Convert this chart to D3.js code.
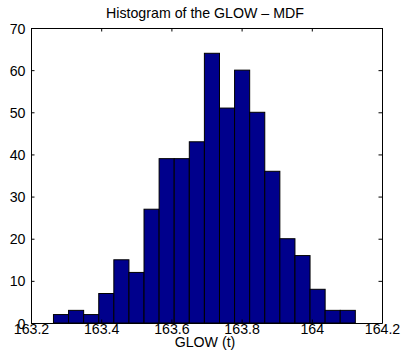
<!DOCTYPE html>
<html><head><meta charset="utf-8">
<script src="https://cdn.jsdelivr.net/npm/d3@7"></script>
<style>
html,body{margin:0;padding:0;background:#fff;}
svg{display:block;font-family:"Liberation Sans",Arial,Helvetica,sans-serif;}
</style></head>
<body>
<svg id="c" width="402" height="364"></svg>
<script>
const title = "Histogram of the GLOW \u2013 MDF";
const xLabel = "GLOW (t)";
const binEdges = [163.264,163.307,163.350,163.393,163.436,163.479,163.522,163.565,163.608,163.651,163.694,163.737,163.780,163.823,163.866,163.909,163.952,163.995,164.038,164.081,164.124];
const counts = [2,3,2,7,15,12,27,39,39,43,64,51,60,50,36,20,16,8,3,3];
const xTicks = [163.2,163.4,163.6,163.8,164,164.2];
const xTickLabels = ["163.2","163.4","163.6","163.8","164","164.2"];
const yTicks = [0,10,20,30,40,50,60,70];

const L=31, R=382, T=28, B=323;
const FS=14.2;
const svg = d3.select("#c");
const x = d3.scaleLinear().domain([163.2,164.2]).range([L,R]);
const y = d3.scaleLinear().domain([0,70]).range([B,T]);

const bins = counts.map((c,i)=>({x0:binEdges[i],x1:binEdges[i+1],c}));
svg.append("g").selectAll("rect").data(bins).join("rect")
  .attr("x",d=>x(d.x0)).attr("width",d=>x(d.x1)-x(d.x0))
  .attr("y",d=>y(d.c)).attr("height",d=>y(0)-y(d.c))
  .attr("fill","#00008c").attr("stroke","#000").attr("stroke-width",1);

const tl=3.5;
const fmt=(v)=>xTickLabels[xTicks.indexOf(v)];
const axB = d3.axisBottom(x).tickValues(xTicks).tickSizeInner(-tl).tickSizeOuter(0).tickPadding(6).tickFormat(fmt);
const axT = d3.axisTop(x).tickValues(xTicks).tickSizeInner(-tl).tickSizeOuter(0).tickFormat("");
const axL = d3.axisLeft(y).tickValues(yTicks).tickSizeInner(-tl).tickSizeOuter(0).tickPadding(6);
const axR = d3.axisRight(y).tickValues(yTicks).tickSizeInner(-tl).tickSizeOuter(0).tickFormat("");

function style(g){
  g.selectAll("path").attr("stroke","#000").attr("stroke-width",1);
  g.selectAll("line").attr("stroke","#000").attr("stroke-width",1);
  g.selectAll("text").attr("fill","#000").attr("font-size",FS).attr("font-family","Liberation Sans, Arial, sans-serif");
}
const gB = svg.append("g").attr("transform",`translate(0,${B})`).call(axB).call(style);
gB.selectAll("text").attr("y",10.5).attr("dy",0);
svg.append("g").attr("transform",`translate(0,${T})`).call(axT).call(style);
const gL = svg.append("g").attr("transform",`translate(${L},0)`).call(axL).call(style);
gL.selectAll("text").attr("x",-5.5).attr("dy","0.36em");
svg.append("g").attr("transform",`translate(${R},0)`).call(axR).call(style);

svg.append("text").attr("x",205).attr("y",17.5).attr("text-anchor","middle")
  .attr("font-size",FS).text(title);
svg.append("text").attr("x",205).attr("y",347).attr("text-anchor","middle")
  .attr("font-size",FS).text(xLabel);
</script>
</body></html>
